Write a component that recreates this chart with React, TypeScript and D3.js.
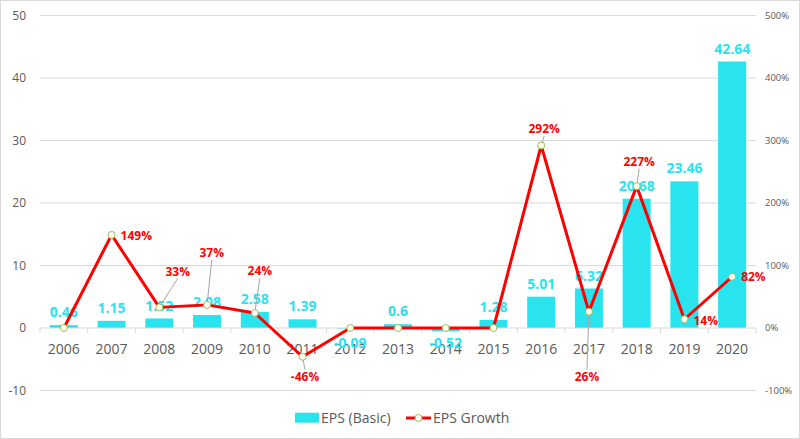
import React from 'react';
import * as d3 from 'd3';

const years = ['2006','2007','2008','2009','2010','2011','2012','2013','2014','2015','2016','2017','2018','2019','2020'];
const eps = [0.46, 1.15, 1.52, 2.08, 2.58, 1.39, -0.09, 0.6, -0.52, 1.28, 5.01, 6.32, 20.68, 23.46, 42.64];
const growth = [0, 149, 33, 37, 24, -46, 0, 0, 0, 0, 292, 26, 227, 14, 82];
const leftTicks = [-10, 0, 10, 20, 30, 40, 50];
const rightTicks = [-100, 0, 100, 200, 300, 400, 500];

// label placement (layout only): [dx, dy, anchor, leader]
const growthLabelLayout: Record<string, [number, number, string, boolean] | null> = {
  '2007': [9, 0.5, 'start', false],
  '2008': [18.4, -36, 'middle', true],
  '2009': [4.7, -52, 'middle', true],
  '2010': [5, -42, 'middle', true],
  '2011': [2.5, 20, 'middle', true],
  '2016': [3, -16.5, 'middle', true],
  '2017': [-2, 65, 'middle', true],
  '2018': [2.5, -24.5, 'middle', true],
  '2019': [9, 1, 'start', false],
  '2020': [9, 0, 'start', false],
};

const W = 800, H = 439;
const L = 40, R = 756, T = 15.5, B = 390.5;
const FONT = '"Open Sans", "Noto Sans", sans-serif';
const CYAN = '#29e3ee';
const RED = '#ff0000';
const GREY = '#595959';

export default function App() {
  const x = d3.scaleBand<string>().domain(years).range([L, R]).paddingInner(0.413).paddingOuter(0.2065);
  const yL = d3.scaleLinear().domain([-10, 50]).range([B, T]);
  const yR = d3.scaleLinear().domain([-100, 500]).range([B, T]);
  const cx = (d: string) => (x(d) as number) + x.bandwidth() / 2;
  const step = (R - L) / years.length;
  const line = d3.line<number>().x((_, i) => cx(years[i])).y((g) => yR(g));
  const y0 = yL(0);

  return (
    <div style={{ position: 'absolute', left: 0, top: 0 }}>
      <svg width={W} height={H} style={{ display: 'block', fontFamily: FONT }}>
        <rect x={0} y={0} width={W} height={H} fill="#fff" />
        <rect x={0.5} y={0.5} width={W - 1} height={H - 1} fill="none" stroke="#d9d9d9" />
        {/* gridlines */}
        {leftTicks.filter((t) => t !== 0).map((t) => (
          <line key={t} x1={L} x2={R} y1={yL(t)} y2={yL(t)} stroke="#d9d9d9" strokeWidth={1} />
        ))}
        {/* bars */}
        {years.map((yr, i) => (
          <rect key={yr} x={x(yr)} width={x.bandwidth()} y={Math.min(yL(eps[i]), y0)} height={Math.abs(yL(eps[i]) - y0)} fill={CYAN} />
        ))}
        {/* zero axis */}
        <line x1={L} x2={R} y1={y0} y2={y0} stroke="#d9d9d9" strokeWidth={1} />
        {d3.range(years.length + 1).map((k) => (
          <line key={k} x1={L + k * step} x2={L + k * step} y1={y0} y2={y0 + 5} stroke="#d9d9d9" />
        ))}
        {/* left axis labels */}
        {leftTicks.map((t) => (
          <text key={t} x={26} y={yL(t) + 4.3} textAnchor="end" fontSize={12} fill={GREY}>{t}</text>
        ))}
        {/* right axis labels */}
        {rightTicks.map((t) => (
          <text key={t} x={765} y={yR(t) + 3.4} textAnchor="start" fontSize={9.5} fill={GREY}>{t}%</text>
        ))}
        {/* category labels */}
        {years.map((yr) => (
          <text key={yr} x={cx(yr)} y={354} textAnchor="middle" fontSize={14} fill={GREY}>{yr}</text>
        ))}
        {/* EPS labels */}
        {years.map((yr, i) => (
          <text key={yr} x={cx(yr)} y={eps[i] >= 0 ? yL(eps[i]) - 8 : yL(0) + 20} textAnchor="middle" fontSize={14} fontWeight="bold" fill={CYAN}>
            {eps[i]}
          </text>
        ))}
        {/* growth line */}
        <path d={line(growth) || ''} fill="none" stroke={RED} strokeWidth={3} strokeLinejoin="round" />
        {/* leader lines */}
        {years.map((yr, i) => {
          const lay = growthLabelLayout[yr];
          if (!lay || !lay[3]) return null;
          const px = cx(yr), py = yR(growth[i]);
          const lx = px + lay[0];
          const ly = py + lay[1] + (lay[1] < 0 ? 7 : -7);
          return <line key={yr} x1={px} y1={py} x2={lx} y2={ly} stroke="#a6a6a6" strokeWidth={1} />;
        })}
        {/* markers */}
        {years.map((yr, i) => (
          <circle key={yr} cx={cx(yr)} cy={yR(growth[i])} r={3.5} fill="#fffff2" stroke="#9bbb59" strokeWidth={1} />
        ))}
        {/* growth labels */}
        {years.map((yr, i) => {
          const lay = growthLabelLayout[yr];
          if (!lay) return null;
          return (
            <text key={yr} x={cx(yr) + lay[0]} y={yR(growth[i]) + lay[1] + 4.3} textAnchor={lay[2] as any} fontSize={12} fontWeight="bold" fill={RED}>
              {growth[i]}%
            </text>
          );
        })}
        {/* legend */}
        <rect x={295} y={412.7} width={24} height={10} fill={CYAN} />
        <text x={321} y={422.5} fontSize={14} fill={GREY}>EPS (Basic)</text>
        <line x1={406} x2={431} y1={418} y2={418} stroke={RED} strokeWidth={3} />
        <circle cx={418.5} cy={418} r={3.5} fill="#fffff2" stroke="#9bbb59" strokeWidth={1} />
        <text x={433} y={422.5} fontSize={14} fill={GREY}>EPS Growth</text>
      </svg>
    </div>
  );
}
